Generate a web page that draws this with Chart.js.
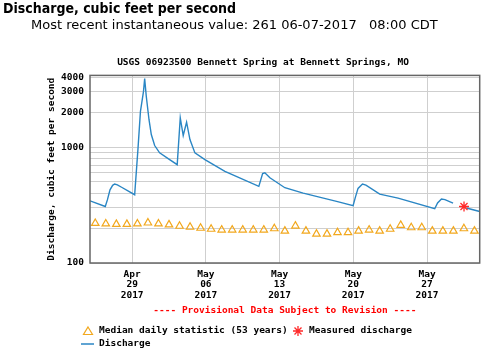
<!DOCTYPE html>
<html>
<head>
<meta charset="utf-8">
<script src="https://cdn.jsdelivr.net/npm/chart.js@4.4.0/dist/chart.umd.min.js"></script>
<style>
    html, body { margin: 0; padding: 0; background: #fff; }
    #wrap { position: relative; width: 486px; height: 351px; overflow: hidden; }
    #chart { position: absolute; left: 0; top: 0; }
    .head1 { position: absolute; left: 3px; top: 0px; font: bold 14px "DejaVu Sans Condensed", "DejaVu Sans", sans-serif; color: #000; white-space: pre; }
    .head2 { position: absolute; left: 31px; top: 17px; font: 13px "DejaVu Sans", sans-serif; color: #000; white-space: pre; }
</style>
</head>
<body>
<div id="wrap">
    <canvas id="chart" width="486" height="351"></canvas>
    <div class="head1">Discharge, cubic feet per second</div>
    <div class="head2">Most recent instantaneous value: 261 06-07-2017   08:00 CDT</div>
</div>
<script>
// x values are days since Apr 25 2017 00:00
const chartTitle = 'USGS 06923500 Bennett Spring at Bennett Springs, MO';
const yTitle = 'Discharge, cubic feet per second';
const provisionalNote = '---- Provisional Data Subject to Revision ----';

const tickDays = [4, 11, 18, 25, 32];
const tickMonth = ['Apr', 'May', 'May', 'May', 'May'];
const tickDate = ['29', '06', '13', '20', '27'];
const tickYear = ['2017', '2017', '2017', '2017', '2017'];

const yGridValues = [100, 200, 300, 400, 500, 600, 700, 800, 900, 1000, 2000, 3000, 4000];
const yLabelValues = [100, 1000, 2000, 3000, 4000];

// Discharge (instantaneous), null = gap in record
const dischargeDays = [0, 1.45, 1.65, 1.90, 2.15, 2.34, 2.60, 3.00, 4.24, 4.55, 4.79, 5.08, 5.19, 5.34, 5.60, 5.82,
    6.14, 6.61, 7.56, 8.28, 8.57, 8.85, 9.17, 9.49, 9.96, 10.91, 12.81, 16.03, 16.39, 16.60, 17.08, 18.50, 20.24,
    23.41, 24.98, 25.20, 25.45, 25.87, 26.20, 27.51, 29.25, 32.73, 33.00, 33.37, 33.70, 34.47, 35.10, 35.74, 37.0];
const dischargeValues = [344, 307, 350, 428, 468, 480, 472, 450, 388, 951, 2030, 3020, 3893, 2755, 1730, 1283,
    1030, 891, 779, 705, 1790, 1258, 1640, 1161, 891, 779, 617, 458, 590, 600, 544, 446, 401,
    340, 312, 370, 440, 480, 470, 393, 363, 294, 330, 356, 352, 329, null, 298, 278];

// Median daily statistic, one per day (plotted at noon)
const medianDays = [0.5, 1.5, 2.5, 3.5, 4.5, 5.5, 6.5, 7.5, 8.5, 9.5, 10.5, 11.5, 12.5, 13.5, 14.5, 15.5, 16.5, 17.5,
    18.5, 19.5, 20.5, 21.5, 22.5, 23.5, 24.5, 25.5, 26.5, 27.5, 28.5, 29.5, 30.5, 31.5, 32.5, 33.5, 34.5, 35.5, 36.5];
const medianValues = [220, 218, 216, 216, 218, 222, 218, 214, 208, 204, 200, 196, 193, 193, 193, 193, 193, 198,
    189, 209, 189, 178, 178, 183, 183, 189, 193, 189, 196, 212, 202, 202, 189, 189, 189, 198, 189];

// Field measurement
const measuredDays = [35.51];
const measuredValues = [307];

const monoFont = { family: '"DejaVu Sans Mono", "Liberation Mono", monospace', size: 9.5, weight: 'bold' };

function toPoints(xs, ys) {
    return xs.map((x, i) => ({ x: x, y: ys[i] }));
}

// box around the plot area
const framePlugin = {
    id: 'frame',
    afterDatasetsDraw(chart) {
        const a = chart.chartArea;
        const ctx = chart.ctx;
        ctx.save();
        ctx.strokeStyle = '#666';
        ctx.lineWidth = 1.5;
        ctx.strokeRect(a.left, a.top, a.right - a.left, a.bottom - a.top);
        ctx.restore();
    }
};

// two-row legend under the chart
const legendPlugin = {
    id: 'customLegend',
    afterDraw(chart) {
        const ctx = chart.ctx;
        const ds = chart.data.datasets;
        const row1 = 331, row2 = 344;
        ctx.save();
        ctx.font = 'bold 9.5px "DejaVu Sans Mono", "Liberation Mono", monospace';
        ctx.textBaseline = 'middle';
        ctx.fillStyle = '#000';

        // median triangle
        const med = ds[0];
        ctx.strokeStyle = med.pointBorderColor;
        ctx.lineWidth = 1.2;
        ctx.beginPath();
        ctx.moveTo(88, row1 - 4);
        ctx.lineTo(92.5, row1 + 3.5);
        ctx.lineTo(83.5, row1 + 3.5);
        ctx.closePath();
        ctx.stroke();
        ctx.fillText(med.label, 99, row1);

        // measured star
        const meas = ds[2];
        ctx.strokeStyle = meas.pointBorderColor;
        ctx.lineWidth = 1.3;
        ctx.beginPath();
        ctx.moveTo(298, row1 - 5); ctx.lineTo(298, row1 + 5);
        ctx.moveTo(293, row1); ctx.lineTo(303, row1);
        ctx.moveTo(294.5, row1 - 3.5); ctx.lineTo(301.5, row1 + 3.5);
        ctx.moveTo(301.5, row1 - 3.5); ctx.lineTo(294.5, row1 + 3.5);
        ctx.stroke();
        ctx.fillText(meas.label, 309, row1);

        // discharge line
        const dis = ds[1];
        ctx.strokeStyle = dis.borderColor;
        ctx.lineWidth = 1.5;
        ctx.beginPath();
        ctx.moveTo(81, row2); ctx.lineTo(94, row2);
        ctx.stroke();
        ctx.fillText(dis.label, 99, row2);
        ctx.restore();
    }
};

const ctx = document.getElementById('chart');
new Chart(ctx, {
    type: 'line',
    data: {
        datasets: [
            {
                label: 'Median daily statistic (53 years)',
                data: toPoints(medianDays, medianValues),
                showLine: false,
                pointStyle: 'triangle',
                pointRadius: 4.3,
                pointBorderWidth: 1.2,
                pointBorderColor: '#f2a81e',
                pointBackgroundColor: 'rgba(0,0,0,0)',
                order: 3
            },
            {
                label: 'Discharge',
                data: toPoints(dischargeDays, dischargeValues),
                borderColor: '#2a86c4',
                borderWidth: 1.4,
                pointRadius: 0,
                tension: 0,
                spanGaps: false,
                fill: false,
                order: 2
            },
            {
                label: 'Measured discharge',
                data: toPoints(measuredDays, measuredValues),
                showLine: false,
                pointStyle: 'star',
                pointRadius: 5,
                pointBorderWidth: 1.3,
                pointBorderColor: '#ff2a2a',
                pointBackgroundColor: '#ff2a2a',
                order: 1
            }
        ]
    },
    options: {
        responsive: false,
        animation: false,
        devicePixelRatio: 1,
        layout: { padding: { left: 46, right: 6, top: 52, bottom: 35 } },
        plugins: {
            legend: { display: false },
            tooltip: { enabled: false },
            title: {
                display: true,
                text: chartTitle,
                color: '#000',
                font: monoFont,
                padding: { top: 5, bottom: 7 }
            }
        },
        scales: {
            x: {
                type: 'linear',
                min: 0,
                max: 37,
                afterBuildTicks: (scale) => {
                    scale.ticks = tickDays.map(v => ({ value: v }));
                },
                afterFit: (scale) => { scale.height = 53; },
                ticks: {
                    color: '#000',
                    font: { ...monoFont, lineHeight: 1.1 },
                    padding: 6,
                    maxRotation: 0,
                    autoSkip: false,
                    callback: (value) => {
                        const i = tickDays.indexOf(value);
                        return i < 0 ? '' : [tickMonth[i], tickDate[i], tickYear[i]];
                    }
                },
                grid: { color: '#cfcfcf', lineWidth: 1, drawTicks: false },
                border: { display: false },
                title: {
                    display: true,
                    text: provisionalNote,
                    color: '#ff0000',
                    font: monoFont,
                    padding: { top: 0, bottom: 0 }
                }
            },
            y: {
                type: 'logarithmic',
                min: 100,
                max: 4150,
                afterBuildTicks: (scale) => {
                    scale.ticks = yGridValues.map(v => ({ value: v }));
                },
                afterFit: (scale) => { scale.width = 44; },
                ticks: {
                    color: '#000',
                    font: monoFont,
                    padding: 6,
                    autoSkip: false,
                    callback: (value) => yLabelValues.includes(value) ? String(value) : ''
                },
                grid: { color: '#cfcfcf', lineWidth: 1, drawTicks: false },
                border: { display: false },
                title: {
                    display: true,
                    text: yTitle,
                    color: '#000',
                    font: monoFont,
                    padding: { top: 0, bottom: 0 }
                }
            }
        }
    },
    plugins: [framePlugin, legendPlugin]
});
</script>
</body>
</html>
